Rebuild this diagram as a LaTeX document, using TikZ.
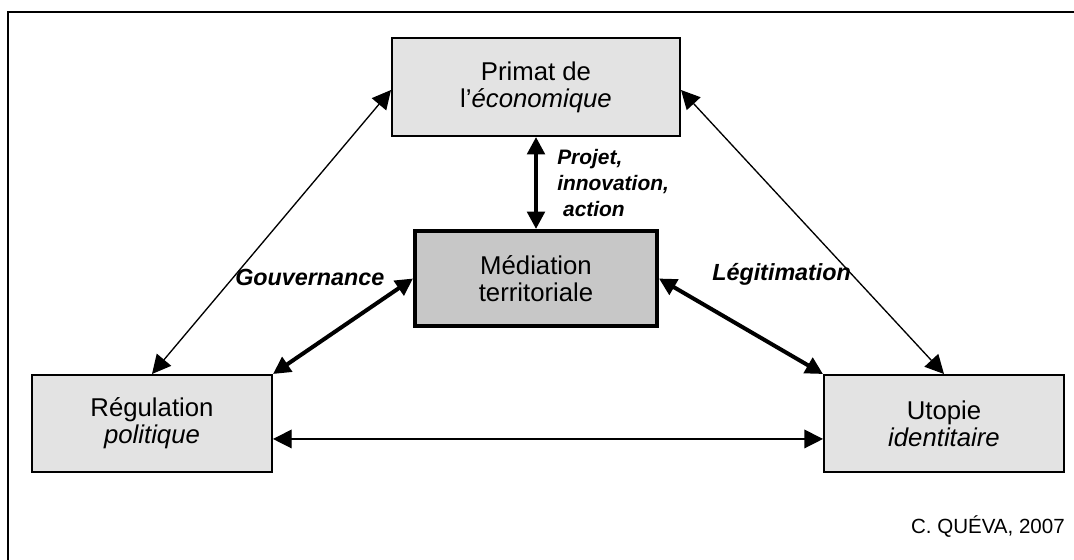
\documentclass[tikz,border=0pt]{standalone}
\usepackage{fontspec}
\setmainfont{Liberation Sans}
\usetikzlibrary{arrows.meta}

\begin{document}
\begin{tikzpicture}[x=0.75pt, y=-0.75pt,
	pole/.style={draw, line width=1.5pt, fill=black!11, inner sep=0pt,
		align=center, minimum width=180pt, minimum height=72.75pt,
		font=\fontsize{19.3}{20.3}\selectfont},
	thinarrow/.style={{Triangle[length=14pt,width=14pt]}-{Triangle[length=14pt,width=14pt]}, line width=1pt},
	thickarrow/.style={{Triangle[length=13pt,width=13pt]}-{Triangle[length=13pt,width=13pt]}, line width=3pt},
	lbl/.style={inner sep=0pt, font=\fontsize{17.5}{20}\selectfont\bfseries\itshape}]

	\useasboundingbox (0, 0) rectangle (1074, 560);
\draw[line width=1.5pt] (8, 600) -- (8, 12.5) -- (1100, 12.5);

% the four poles
\node[pole, minimum width=216pt, minimum height=73.5pt] (top) at (536, 87) {Primat de\\l'\textit{économique}};
\node[pole, line width=3pt, fill=black!22, minimum width=181.5pt, minimum height=71.25pt] (med) at (536, 278.5) {Médiation\\territoriale};
\node[pole] (left) at (152, 423.5) {Régulation\\\textit{politique}};
\node[pole] (right) at (944, 423.5) {Utopie\\\textit{identitaire}};

\draw[thinarrow] ([yshift=-2.25pt]top.west) -- (left.north);
\draw[thinarrow] ([yshift=-2.25pt]top.east) -- (right.north);
\draw[thinarrow] ([yshift=-11.6pt]left.east) -- ([yshift=-11.6pt]right.west);
\draw[thickarrow] (top.south) -- (med.north);
\draw[thickarrow] (med.west) -- (left.north east);
\draw[thickarrow] (med.east) -- (right.north west);

\node[lbl, anchor=base west] (gov) at (235, 285) {Gouvernance};
\node[lbl, anchor=base west] (legit) at (712, 280) {Légitimation};
\node[lbl, anchor=north west, align=left, font=\fontsize{15.7}{19.5}\selectfont\bfseries\itshape] (projet) at (557, 149) {Projet,\\innovation,\\\hspace*{0.28em}action};
\node[anchor=base east, inner sep=0pt, font=\fontsize{15.4}{18}\selectfont] (credit) at (1065, 533) {C. QUÉVA, 2007};

\end{tikzpicture}
\end{document}
